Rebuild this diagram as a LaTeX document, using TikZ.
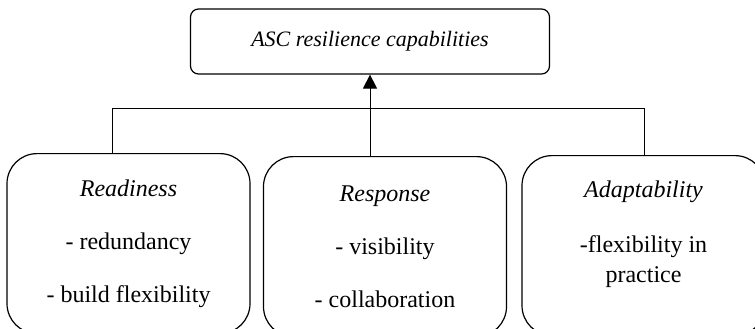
\documentclass[tikz,border=0pt]{standalone}
\usepackage{fontspec}
\setmainfont{Liberation Serif}
\usetikzlibrary{arrows.meta}

\tikzset{
  capbox/.style={draw, line width=1.2pt, rounded corners=8pt,
    minimum width=359pt, minimum height=65pt,
    font=\fontsize{22}{26}\selectfont\itshape},
  itembox/.style={draw, line width=1.2pt, rounded corners=30pt, anchor=north,
    minimum width=243pt, minimum height=180pt, align=center,
    font=\fontsize{24}{30}\selectfont},
  link/.style={line width=0.9pt},
}

\begin{document}
\begin{tikzpicture}[x=1pt,y=-1pt]
  \useasboundingbox (0,0) rectangle (755,329);
  % top box
  \node[capbox] (cap) at (370,41.5) {ASC resilience capabilities};
  % the three capabilities
  \node[itembox] (ready) at (128.5,153) {\textit{Readiness}\\[23pt]- redundancy\\[23pt]- build flexibility};
  \node[itembox] (resp) at (385,156) {\textit{Response}\\[23pt]- visibility\\[23pt]- collaboration};
  \node[itembox, text depth=27pt] (adapt) at (643.5,155) {\textit{Adaptability}\\[25pt]-flexibility in\\practice};
  % connectors
  \coordinate (jl) at (112,108);
  \coordinate (jm) at (370,108);
  \coordinate (jr) at (644,108);
  \draw[link] (jl |- ready.north) -- (jl) -- (jr) -- (jr |- adapt.north);
  \draw[link, -{Triangle[length=14pt,width=14pt]}] (jm |- resp.north) -- (cap.south);
\end{tikzpicture}
\end{document}
